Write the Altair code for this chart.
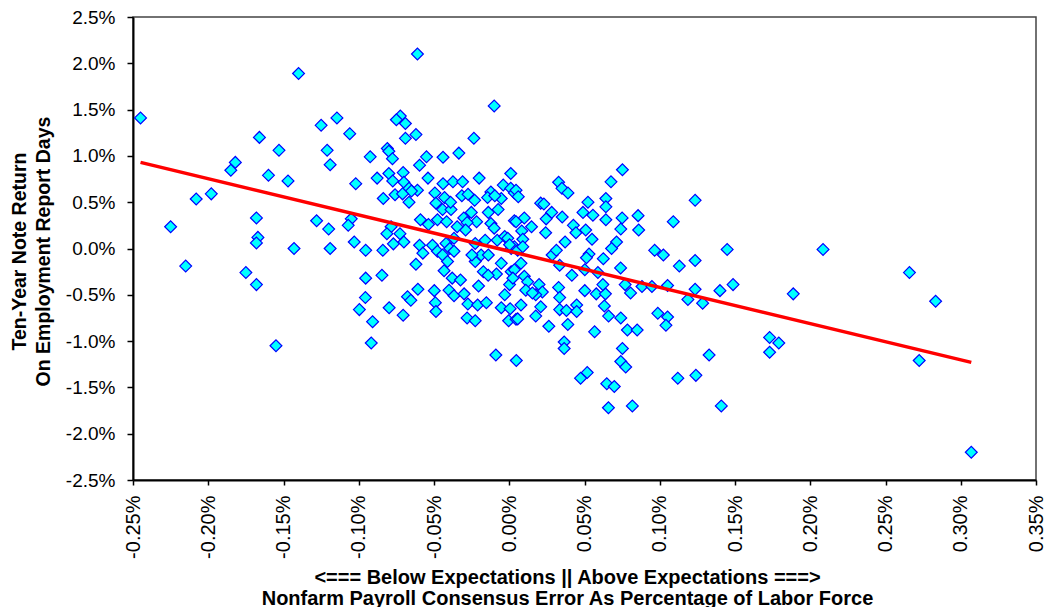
import altair as alt
import pandas as pd

# Nonfarm payroll consensus error (% of labor force)
x_vals = [
    -0.245, -0.140, -0.125, -0.1145, -0.106, -0.166, -0.153, -0.121, -0.119, -0.182,
    -0.185, -0.160, -0.147, -0.102, -0.208, -0.198, -0.225, -0.168, -0.167, -0.168,
    -0.143, -0.128, -0.120, -0.119, -0.105, -0.107, -0.103, -0.215, -0.175, -0.168,
    -0.155, -0.0996,
    -0.061, -0.010, -0.0724, -0.075, -0.069, -0.062, -0.069, -0.0235, -0.081, -0.080,
    -0.0776, -0.0924, -0.055, -0.044, -0.0335, -0.0596, 0.001, -0.0878, -0.080, -0.0705,
    -0.0774, -0.054, -0.020, -0.044, -0.0374, -0.031, -0.004, 0.001, -0.070, -0.0666,
    -0.061, -0.065, -0.0837, -0.0759, -0.0709, -0.0666, -0.0494, -0.043, -0.0315, -0.0274,
    -0.023, -0.0122, -0.0144, -0.0053, -0.0096, 0.0034, -0.0487, -0.0443, -0.0387, -0.039,
    -0.0477, -0.059, -0.0537, -0.0416, -0.0302, -0.0252, -0.0217, -0.028, -0.0139, -0.0074,
    -0.0122, -0.010, 0.0034, -0.029, -0.0346, -0.0785, -0.0813, -0.0726, -0.070, -0.077,
    -0.0596, -0.051, -0.042, -0.0367, -0.0226, -0.016, -0.008, -0.003,
    -0.0954, -0.084, -0.0395, 0.0013, -0.0574, -0.0477, -0.0443, -0.0367, -0.041, -0.062,
    -0.0433, -0.0954, -0.0846, -0.0379, -0.0324, -0.0607, -0.0498, -0.040, -0.0367, -0.030,
    -0.0204, -0.0956, -0.0676, -0.0654, -0.0798, -0.0705, -0.0491, -0.0487, -0.0275, -0.021,
    -0.0152, -0.028, -0.0226, -0.0908, -0.0917, -0.0089, 0.0047, -0.0053, -0.0085, 0.0013,
    -0.003, 0.0002, -0.0053, 0.0006, -0.0004, 0.0045, -0.0187, -0.0139, -0.0226, -0.0172,
    -0.014, -0.0248, 0.0034,
    0.0752, 0.0676, 0.0328, 0.035, 0.039, 0.0045, 0.006, 0.0209, 0.023, 0.0523,
    0.0642, 0.0642, 0.049, 0.0556, 0.0282, 0.0245, 0.0352, 0.0045, 0.010, 0.0148,
    0.0083, 0.009, 0.0642, 0.075, 0.0856, 0.0741, 0.086, 0.0242, 0.0426, 0.0508,
    0.0443, 0.055, 0.0371, 0.0713, 0.068, 0.109, -0.001,
    0.0966, 0.1024, 0.0002, 0.0056, 0.009, 0.0285, 0.0313, 0.0335, 0.053, 0.0513,
    0.0625, 0.074, 0.0416, 0.0502, 0.0589, 0.0034, 0.0024, 0.0078, 0.010, 0.0122,
    0.0198, 0.022, 0.0176, 0.011, 0.0154, 0.0078, 0.0209, 0.0176, 0.0056, 0.0328,
    0.0335, 0.0335, 0.038, 0.0448, 0.0448, 0.0502, 0.0578, 0.0639, 0.0622, 0.0632,
    0.066, 0.0741, 0.077, 0.0806, 0.0882, 0.0948, 0.1052, 0.0987, 0.1052, 0.1041,
    0.0785, 0.085, 0.0567, 0.0263, 0.0389, 0.0365, 0.0365, 0.0752, 0.0741, 0.0774,
    0.0518, 0.0474, 0.0648, 0.0698, 0.0659, 0.0818,
    0.1235, 0.1448, 0.2085, 0.113, 0.1235, 0.1235, 0.1187, 0.1285, 0.140, 0.1487,
    0.1328, 0.112, 0.124, 0.1409, 0.1887, 0.173, 0.1791, 0.173, 0.2659, 0.2833,
    0.2724, 0.307,
]

# Ten-year note return on employment report days (%)
y_vals = [
    1.41, 1.89, 1.33, 1.41, 1.24, 1.20, 1.06, 1.06, 0.905, 0.93,
    0.845, 0.79, 0.73, 0.70, 0.535, 0.59, 0.235, 0.33, 0.12, 0.06,
    0.00, 0.30, 0.21, 0.00, 0.32, 0.25, 0.07, -0.19, -0.26, -0.39,
    -1.05, -0.66,
    2.10, 1.54, 1.43, 1.39, 1.35, 1.23, 1.19, 1.19, 1.08, 1.05,
    0.97, 0.99, 0.99, 0.985, 1.03, 0.90, 0.81, 0.76, 0.81, 0.82,
    0.73, 0.76, 0.76, 0.70, 0.72, 0.72, 0.685, 0.65, 0.715, 0.65,
    0.63, 0.62, 0.54, 0.58, 0.59, 0.50, 0.60, 0.55, 0.57, 0.585,
    0.52, 0.61, 0.55, 0.54, 0.57, 0.60, 0.49, 0.42, 0.42, 0.50,
    0.31, 0.31, 0.26, 0.29, 0.33, 0.39, 0.29, 0.28, 0.39, 0.42,
    0.27, 0.22, 0.30, 0.20, 0.235, 0.235, 0.16, 0.16, 0.07, 0.05,
    0.035, 0.035, 0.055, 0.11, 0.055, 0.09, 0.09, 0.13,
    -0.02, -0.02, 0.00, 0.00, -0.05, -0.03, -0.07, -0.03, -0.14, -0.17,
    -0.24, -0.32, -0.29, -0.32, -0.34, -0.44, -0.455, -0.45, -0.51, -0.49,
    -0.405, -0.53, -0.52, -0.56, -0.64, -0.72, -0.585, -0.68, -0.60, -0.61,
    -0.585, -0.75, -0.78, -0.79, -1.02, -1.15, -1.21, -0.16, -0.275, -0.25,
    -0.50, -0.39, -0.64, -0.65, -0.78, -0.765, -0.07, -0.07, -0.14, -0.25,
    -0.29, -0.07, 0.02,
    0.85, 0.72, 0.715, 0.65, 0.60, 0.63, 0.56, 0.49, 0.48, 0.50,
    0.54, 0.45, 0.39, 0.36, 0.39, 0.32, 0.34, 0.29, 0.33, 0.235,
    0.19, 0.10, 0.31, 0.33, 0.355, 0.21, 0.20, 0.17, 0.25, 0.20,
    0.17, 0.10, 0.07, 0.07, 0.00, 0.29, 0.11,
    -0.02, -0.07, 0.04, -0.02, 0.02, -0.07, -0.02, -0.18, -0.06, -0.10,
    -0.11, -0.21, -0.29, -0.23, -0.26, -0.23, -0.32, -0.16, -0.30, -0.36,
    -0.39, -0.47, -0.50, -0.45, -0.48, -0.61, -0.63, -0.73, -0.76, -0.42,
    -0.53, -0.66, -0.67, -0.61, -0.68, -0.455, -0.49, -0.49, -0.39, -0.62,
    -0.73, -0.75, -0.39, -0.48, -0.41, -0.41, -0.40, -0.70, -0.74, -0.83,
    -0.88, -0.88, -0.90, -0.84, -0.82, -1.01, -1.08, -1.08, -1.22, -1.28,
    -1.34, -1.40, -1.46, -1.49, -1.72, -1.70,
    0.52, -0.01, -0.01, -0.19, -0.13, -0.44, -0.55, -0.59, -0.455, -0.39,
    -1.15, -1.40, -1.37, -1.70, -0.49, -0.96, -1.02, -1.12, -0.26, -0.57,
    -1.21, -2.20,
]

# Linear trend line end points
trend_x = [-0.245, 0.307]
trend_y = [0.93, -1.23]

x_ticks = [-0.25, -0.20, -0.15, -0.10, -0.05, 0.0, 0.05, 0.10, 0.15, 0.20, 0.25, 0.30, 0.35]
y_ticks = [-2.5, -2.0, -1.5, -1.0, -0.5, 0.0, 0.5, 1.0, 1.5, 2.0, 2.5]

x_title = ["<=== Below Expectations  ||  Above Expectations ===>",
           "Nonfarm Payroll Consensus Error As Percentage of Labor Force"]
y_title = ["Ten-Year Note Return", "On Employment Report Days"]

n = min(len(x_vals), len(y_vals))
df = pd.DataFrame({"x": x_vals[:n], "y": y_vals[:n]})
trend_df = pd.DataFrame({"x": trend_x, "y": trend_y})

FONT = "Liberation Sans"

x_scale = alt.Scale(domain=[-0.25, 0.35], nice=False, zero=False)
y_scale = alt.Scale(domain=[-2.5, 2.5], nice=False, zero=False)

x_axis = alt.Axis(
    values=x_ticks,
    labelExpr="(datum.value < -0.0001 ? '-' : '') + format(abs(datum.value), '.2f') + '%'",
    labelAngle=270,
    labelFont=FONT, labelFontSize=20, labelColor="black",
    labelPadding=10, labelFlush=False, labelOverlap=False, labelBound=False,
    tickSize=5, tickColor="black", tickWidth=1.5,
    domainColor="black", domainWidth=2,
    grid=False,
    title=x_title, titleFont=FONT, titleFontSize=20, titleFontWeight="bold",
    titleColor="black", titleLineHeight=21, titleX=434, titleY=87,
    titleAlign="center", titleBaseline="top",
)

y_axis = alt.Axis(
    values=y_ticks,
    labelExpr="(datum.value < -0.0001 ? '-' : '') + format(abs(datum.value), '.1f') + '%'",
    labelFont=FONT, labelFontSize=19, labelColor="black",
    labelPadding=12, labelFlush=False, labelOverlap=False, labelBound=False,
    tickSize=6, tickColor="black", tickWidth=1.5,
    domainColor="black", domainWidth=2,
    grid=False,
    title=y_title, titleFont=FONT, titleFontSize=19.5, titleFontWeight="bold",
    titleColor="black", titleLineHeight=24, titleX=-104, titleY=234,
    titleAlign="center", titleBaseline="bottom", titleAngle=270,
)

points = alt.Chart(df).mark_point(
    shape="diamond", filled=True, fill="#00FFFF", stroke="#0000FF",
    strokeWidth=1.2, size=140, opacity=1,
).encode(
    x=alt.X("x:Q", scale=x_scale, axis=x_axis),
    y=alt.Y("y:Q", scale=y_scale, axis=y_axis),
)

trend = alt.Chart(trend_df).mark_line(color="#FF0000", strokeWidth=3.5).encode(
    x=alt.X("x:Q", scale=x_scale),
    y=alt.Y("y:Q", scale=y_scale),
)

chart = alt.layer(points, trend).properties(
    width=903, height=463,
    autosize=alt.AutoSizeParams(type="none"),
    padding={"left": 125, "top": 9, "right": 11, "bottom": 127},
    background="white",
).configure_view(stroke="#444444", strokeWidth=1.5)

chart.save("out.html", embed_options={"renderer": "svg", "actions": False})
